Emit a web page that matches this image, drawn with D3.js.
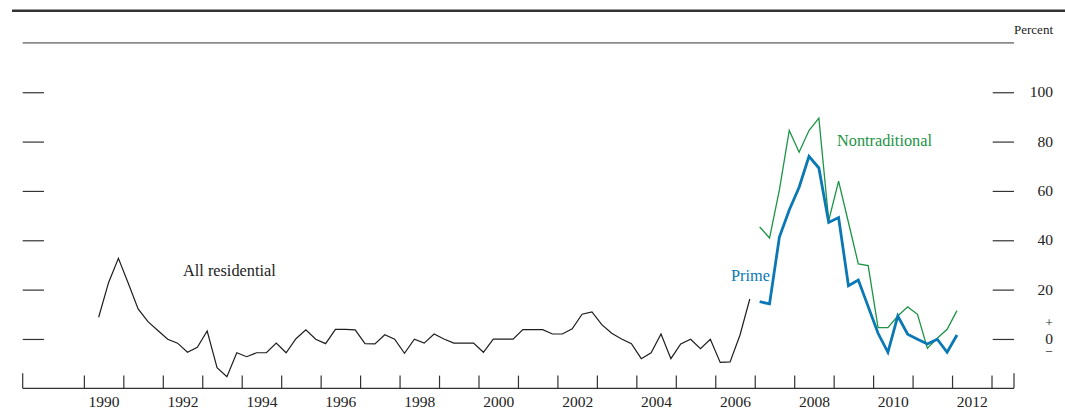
<!DOCTYPE html>
<html>
<head>
<meta charset="utf-8">
<script src="https://cdn.jsdelivr.net/npm/d3@7"></script>
<style>
  body { margin: 0; background: #fff; }
  svg { display: block; font-family: "Liberation Serif", "DejaVu Serif", serif; }
  .axis path { display: none; }
  .axis line { stroke: #333; stroke-width: 1.2px; }
  .axis text { fill: #222; font-size: 15.5px; font-family: "Liberation Serif", serif; }
</style>
</head>
<body>
<div id="chart"></div>
<script>
// quarterly net percentages
const allResidentialStart = [1990, 2]
const allResidential = [
  8.8, 22.8, 32.7, 22.6, 12.2, 7.0, 3.4, -0.1, -1.7, -5.4, -3.4, 3.2,
  -11.6, -15.3, -5.6, -7.2, -5.6, -5.6, -1.7, -5.6, 0.1, 3.7, -0.1, -1.9,
  3.9, 3.9, 3.7, -1.9, -2.0, 1.7, -0.1, -5.8, -0.1, -1.7, 2.0, 0.0,
  -1.7, -1.7, -1.7, -5.4, -0.1, -0.1, -0.1, 3.8, 3.8, 3.8, 2.0, 2.0,
  4.1, 10.0, 11.0, 5.8, 2.3, 0.0, -1.9, -8.0, -5.6, 2.0, -8.0, -2.0,
  -0.1, -3.9, -0.1, -9.5, -9.3, 1.5, 16.2
]
const splitStart = [2007, 1]
const prime = [
  15.1, 14.2, 41.3, 52.3, 61.5, 74.0, 69.3, 47.2, 49.2, 21.6, 23.9,
  13.1, 2.3, -5.4, 9.3, 1.9, -0.1, -2.0, -0.1, -5.4, 1.6
]
const nontraditional = [
  45.4, 40.9, 60.4, 84.5, 75.7, 84.5, 89.5, 48.0, 64.0, 47.2, 30.4,
  29.7, 4.6, 4.6, 9.3, 13.0, 10.0, -3.8, 0.3, 3.9, 11.5
]
const yTicks = [0, 20, 40, 60, 80, 100]
const yearTicks = d3.range(1990, 2014)
const yearLabels = d3.range(1990, 2013, 2)

const width = 1065, height = 409

function toSeries(values, start) {
  return values.map((v, i) => {
    const q = start[1] - 1 + i
    return { t: start[0] + Math.floor(q / 4) + ((q % 4) + 0.5) / 4, v }
  })
}

const x = d3.scaleLinear().domain([1988.45, 2013.57]).range([22.7, 1014])
const y = d3.scaleLinear().domain([-20, 120]).range([388.3, 42.9])

const svg = d3.select('#chart').append('svg')
  .attr('width', width)
  .attr('height', height)

// frame lines
svg.append('line')
  .attr('x1', 12).attr('x2', width)
  .attr('y1', 10.7).attr('y2', 10.7)
  .attr('stroke', '#333').attr('stroke-width', 2.5)
svg.append('line')
  .attr('x1', x.range()[0]).attr('x2', x.range()[1])
  .attr('y1', y(120)).attr('y2', y(120))
  .attr('stroke', '#8a8a8a').attr('stroke-width', 1.6)

svg.append('text')
  .attr('x', 1053).attr('y', 34)
  .attr('text-anchor', 'end')
  .attr('font-size', 13)
  .attr('fill', '#222')
  .text('Percent')

// y ticks, both sides
svg.append('g').attr('class', 'axis')
  .attr('transform', `translate(${x.range()[0]},0)`)
  .call(d3.axisRight(y).tickValues(yTicks).tickSize(21.3).tickFormat(''))
svg.append('g').attr('class', 'axis')
  .attr('transform', `translate(${x.range()[1]},0)`)
  .call(d3.axisLeft(y).tickValues(yTicks).tickSize(21.3).tickFormat(''))

const yLab = svg.append('g').attr('class', 'axis')
yLab.selectAll('text.val')
  .data(yTicks.filter(d => d > 0))
  .enter().append('text')
  .attr('x', 1053)
  .attr('y', d => y(d) + 5)
  .attr('text-anchor', 'end')
  .text(d => d)
yLab.append('text').attr('x', 1049).attr('y', y(0) + 5).attr('text-anchor', 'middle').text('0')
yLab.append('text').attr('x', 1049).attr('y', y(0) - 11.5).attr('text-anchor', 'middle')
  .style('font-size', '13.5px').text('+')
yLab.append('text').attr('x', 1049).attr('y', y(0) + 17.5).attr('text-anchor', 'middle')
  .style('font-size', '13.5px').text('\u2212')

// x axis
const xAxis = svg.append('g').attr('class', 'axis')
  .attr('transform', `translate(0,${y(-20)})`)
xAxis.call(d3.axisBottom(x).tickValues(yearTicks).tickSizeInner(-12.7).tickSizeOuter(0).tickFormat(''))
xAxis.append('line')
  .attr('x1', x.range()[0]).attr('x2', x.range()[1])
xAxis.append('line')
  .attr('x1', x.range()[0]).attr('x2', x.range()[0]).attr('y2', -15)
xAxis.append('line')
  .attr('x1', x.range()[1]).attr('x2', x.range()[1]).attr('y2', -15)

svg.append('g').attr('class', 'axis')
  .attr('transform', `translate(0,${y(-20)})`)
  .call(d3.axisBottom(x).tickValues(yearLabels.map(d => d + 0.5)).tickSize(0).tickPadding(7.5)
    .tickFormat(d => Math.floor(d)))

// series
const line = d3.line().x(d => x(d.t)).y(d => y(d.v))

svg.append('path')
  .datum(toSeries(allResidential, allResidentialStart))
  .attr('d', line)
  .attr('fill', 'none')
  .attr('stroke', '#1e1e1e')
  .attr('stroke-width', 1.2)

svg.append('path')
  .datum(toSeries(nontraditional, splitStart))
  .attr('d', line)
  .attr('fill', 'none')
  .attr('stroke', '#1b9446')
  .attr('stroke-width', 1.3)

svg.append('path')
  .datum(toSeries(prime, splitStart))
  .attr('d', line)
  .attr('fill', 'none')
  .attr('stroke', '#0a78b4')
  .attr('stroke-width', 2.8)

// series labels
const labels = [
  { text: 'All residential', x: 183, y: 275.5, color: '#222' },
  { text: 'Prime', x: 731, y: 281, color: '#0a78b4' },
  { text: 'Nontraditional', x: 837, y: 146, color: '#1b9446' }
]
svg.selectAll('text.series')
  .data(labels)
  .enter().append('text')
  .attr('class', 'series')
  .attr('x', d => d.x)
  .attr('y', d => d.y)
  .attr('font-size', 16.3)
  .attr('fill', d => d.color)
  .text(d => d.text)
</script>
</body>
</html>
